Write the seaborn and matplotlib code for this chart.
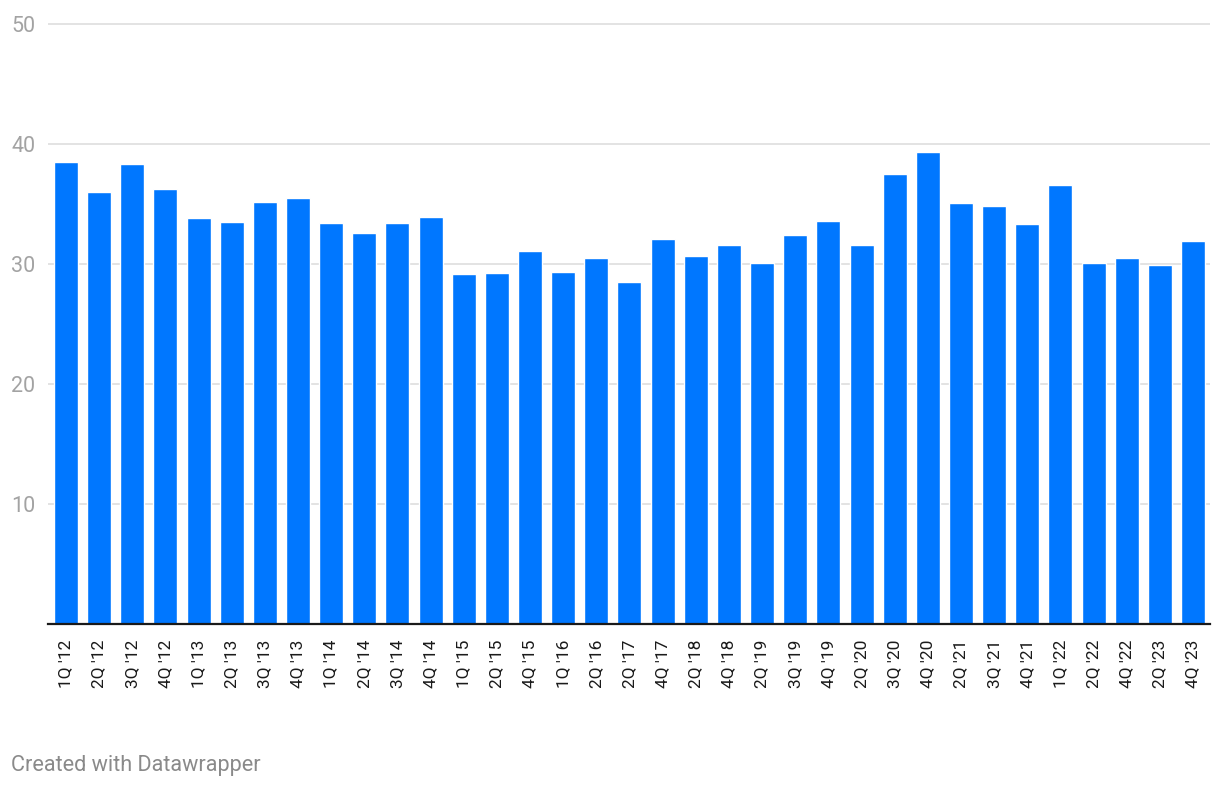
import matplotlib
matplotlib.use("Agg")
import matplotlib.pyplot as plt
import seaborn as sns
import pandas as pd

quarters = ["1Q '12", "2Q '12", "3Q '12", "4Q '12", "1Q '13", "2Q '13", "3Q '13", "4Q '13",
            "1Q '14", "2Q '14", "3Q '14", "4Q '14", "1Q '15", "2Q '15", "4Q '15", "1Q '16",
            "2Q '16", "2Q '17", "4Q '17", "2Q '18", "4Q '18", "2Q '19", "3Q '19", "4Q '19",
            "2Q '20", "3Q '20", "4Q '20", "2Q '21", "3Q '21", "4Q '21", "1Q '22", "2Q '22",
            "4Q '22", "2Q '23", "4Q '23"]
values = [38.5, 36.0, 38.33, 36.25, 33.83, 33.5, 35.17, 35.5,
          33.42, 32.58, 33.42, 33.92, 29.17, 29.25, 31.08, 29.33,
          30.5, 28.5, 32.08, 30.67, 31.58, 30.08, 32.42, 33.58,
          31.58, 37.5, 39.33, 35.08, 34.83, 33.33, 36.58, 30.08,
          30.5, 29.92, 31.92]
y_ticks = [10, 20, 30, 40, 50]

df = pd.DataFrame({"quarter": quarters, "value": values})

sns.set_theme(style="white")
plt.rcParams["font.family"] = ["Roboto", "DejaVu Sans"]

W, H = 1220, 788
fig = plt.figure(figsize=(W / 100, H / 100), dpi=100)
ax = fig.add_axes([48 / W, (H - 624) / H, (1210 - 48) / W, (624 - 12) / H])

sns.barplot(data=df, x="quarter", y="value", order=quarters, color="#0077ff",
            saturation=1, width=0.724, ax=ax, zorder=3)

ax.set_ylim(0, 51)
ax.set_xlim(-0.54, len(quarters) - 1 + 0.51)
ax.set_yticks(y_ticks)
ax.set_yticklabels([str(t) for t in y_ticks], ha="left", color="#a3a3a3", fontsize=15.5)
ax.tick_params(axis="y", length=0, pad=26.5)
ax.tick_params(axis="x", length=0, pad=11, labelsize=12.5, labelcolor="#1a1a1a")
for lbl in ax.get_xticklabels():
    lbl.set_rotation(90)

ax.grid(axis="y", color="#e3e3e3", linewidth=1.4, zorder=0)
ax.grid(axis="x", visible=False)
for s in ["top", "right", "left"]:
    ax.spines[s].set_visible(False)
ax.spines["bottom"].set_color("#1a1a1a")
ax.spines["bottom"].set_linewidth(1.6)
ax.spines["bottom"].set_zorder(5)
ax.set_xlabel("")
ax.set_ylabel("")

fig.text(11 / W, 1 - 765 / H, "Created with Datawrapper", ha="left", va="center",
         color="#8a8a8a", fontsize=15.6)

fig.savefig("out.png", dpi=100)
